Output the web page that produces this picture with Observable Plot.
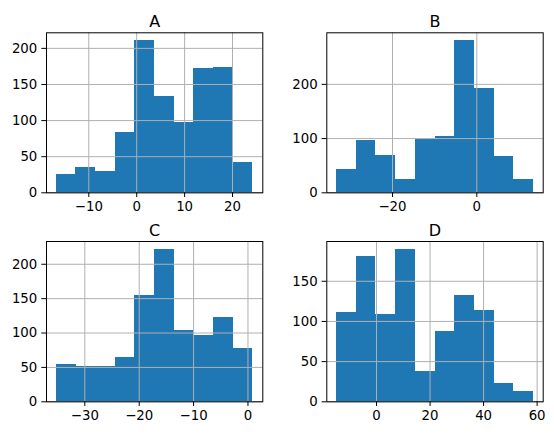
<!DOCTYPE html>
<html>
<head>
<meta charset="utf-8">
<script src="https://cdn.jsdelivr.net/npm/d3@7"></script>
<script src="https://cdn.jsdelivr.net/npm/@observablehq/plot@0.6"></script>
<style>
  body { margin: 0; background: #fff; }
  #fig { position: relative; width: 554px; height: 435px; font-family: "DejaVu Sans", sans-serif; }
  #fig svg { position: absolute; left: 0; top: 0; }
</style>
</head>
<body>
<div id="fig"></div>
<script>
// Histogram bin edges (10 equal bins per column) and counts per bin
const edgesA = [-16.78, -12.68, -8.57, -4.47, -0.36, 3.74, 7.85, 11.95, 16.06, 20.16, 24.27];
const countsA = [25, 35, 29, 84, 211, 134, 97, 172, 174, 42];

const edgesB = [-33.25, -28.58, -23.92, -19.25, -14.59, -9.92, -5.25, -0.59, 4.08, 8.74, 13.41];
const countsB = [43, 96, 68, 24, 98, 103, 281, 193, 67, 24];

const edgesC = [-35.24, -31.62, -28.01, -24.39, -20.78, -17.16, -13.54, -9.93, -6.31, -2.70, 0.92];
const countsC = [54, 52, 51, 64, 155, 222, 103, 96, 122, 77];

const edgesD = [-14.9, -7.55, -0.2, 7.15, 14.5, 21.85, 29.2, 36.55, 43.9, 51.25, 58.6];
const countsD = [111, 181, 109, 190, 38, 88, 132, 114, 23, 13];

// Tick values
const xTicksA = [-10, 0, 10, 20];
const yTicksA = [0, 50, 100, 150, 200];
const xTicksB = [-20, 0];
const yTicksB = [0, 100, 200];
const xTicksC = [-30, -20, -10, 0];
const yTicksC = [0, 50, 100, 150, 200];
const xTicksD = [0, 20, 40, 60];
const yTicksD = [0, 50, 100, 150];

const W = 554, H = 435;

// Panel layout: [frameLeft, frameRight, frameTop, frameBottom] in page pixels
const panels = [
  { title: "A", edges: edgesA, counts: countsA, xt: xTicksA, yt: yTicksA, box: [46, 262.3, 32.3, 192.3] },
  { title: "B", edges: edgesB, counts: countsB, xt: xTicksB, yt: yTicksB, box: [326.3, 542.7, 32.3, 192.3] },
  { title: "C", edges: edgesC, counts: countsC, xt: xTicksC, yt: yTicksC, box: [46, 262.3, 241, 401.3] },
  { title: "D", edges: edgesD, counts: countsD, xt: xTicksD, yt: yTicksD, box: [326.3, 542.7, 241, 401.3] }
];

const fig = document.getElementById("fig");

for (const p of panels) {
  const bins = p.counts.map((n, i) => ({ x1: p.edges[i], x2: p.edges[i + 1], n }));
  const lo = p.edges[0], hi = p.edges[p.edges.length - 1];
  const pad = (hi - lo) * 0.05;
  const ymax = d3.max(p.counts) * 1.05;
  const [l, r, t, b] = p.box;

  const chart = Plot.plot({
    width: W,
    height: H,
    marginLeft: l,
    marginRight: W - r,
    marginTop: t,
    marginBottom: H - b,
    style: { background: "transparent", fontFamily: "'DejaVu Sans', sans-serif", color: "black", overflow: "visible" },
    x: { domain: [lo - pad, hi + pad], label: null },
    y: { domain: [0, ymax], label: null },
    marks: [
      // bars touch edge to edge; crisp edges avoid hairline seams between them
      Plot.rectY(bins, { x1: "x1", x2: "x2", y1: 0, y2: "n", fill: "#1f77b4", inset: 0, shapeRendering: "crispEdges" }),
      Plot.gridX(p.xt, { stroke: "#b0b0b0", strokeOpacity: 1, strokeWidth: 1 }),
      Plot.gridY(p.yt, { stroke: "#b0b0b0", strokeOpacity: 1, strokeWidth: 1 }),
      Plot.frame({ stroke: "black", strokeWidth: 1 }),
      Plot.axisX(p.xt, { tickSize: 4.7, tickPadding: 4, fontSize: 13.3, stroke: "black", label: null }),
      Plot.axisY(p.yt, { tickSize: 4.7, tickPadding: 4.5, fontSize: 13.3, stroke: "black", label: null }),
      Plot.text([p.title], { frameAnchor: "top", lineAnchor: "bottom", dy: -6, fontSize: 16, fill: "black" })
    ]
  });
  fig.appendChild(chart);
}
</script>
</body>
</html>
